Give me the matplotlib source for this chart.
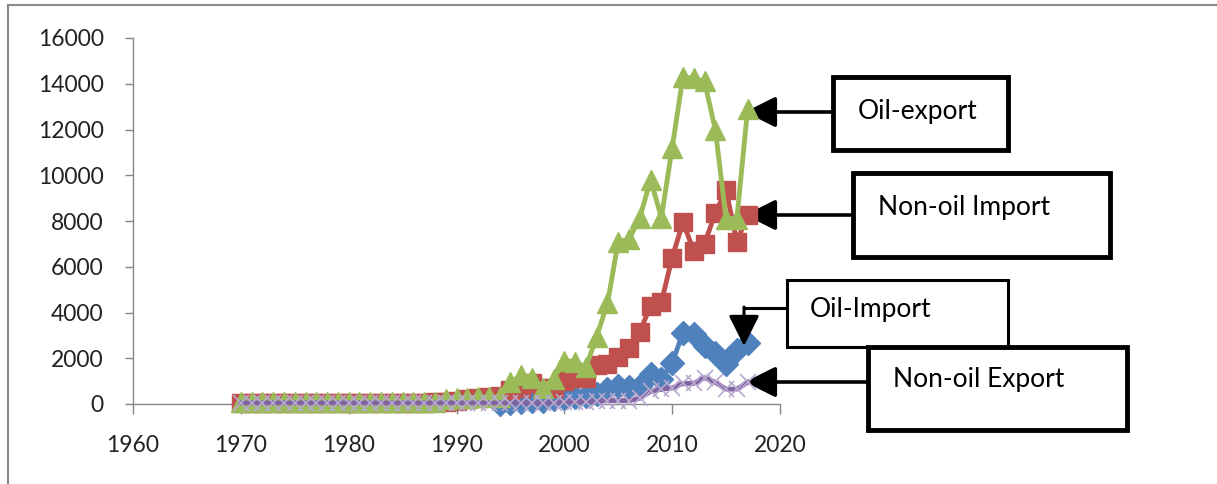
import matplotlib
matplotlib.use('Agg')
import matplotlib.pyplot as plt
import numpy as np
from matplotlib.patches import Rectangle
from matplotlib.lines import Line2D

plt.rcParams['font.family'] = ['Lato', 'DejaVu Sans']

W, H = 1217, 484
nan = np.nan

# data (1970 .. 2017)
years = list(range(1970, 2018))

oil_import = [nan, nan, nan, nan, nan, nan, nan, nan, nan, nan,
              nan, nan, nan, nan, nan, nan, nan, nan, nan, nan,
              nan, nan, nan, nan, 0, 50, 100, 150, 150, 200,
              250, 300, 350, 450, 650, 800, 750, 800, 1300, 1100,
              1800, 3100, 3050, 2550, 2250, 1750, 2350, 2650]

non_oil_import = [50, 50, 50, 50, 50, 50, 50, 50, 50, 50,
                  50, 50, 50, 50, 50, 50, 50, 50, 80, 100,
                  150, 200, 250, 300, 350, 600, 700, 900, 700, 700,
                  1000, 1150, 1150, 1700, 1750, 2050, 2450, 3150, 4300, 4450,
                  6400, 7950, 6700, 7000, 8350, 9350, 7100, 8250]

oil_export = [100, 100, 100, 100, 100, 100, 100, 100, 100, 100,
              100, 100, 100, 100, 100, 100, 100, 100, 100, 200,
              250, 250, 300, 300, 300, 950, 1250, 1150, 700, 1100,
              1900, 1850, 1600, 2950, 4400, 7100, 7200, 8150, 9800, 8150,
              11200, 14300, 14250, 14100, 12000, 8100, 8100, 12900]

non_oil_export = [50, 50, 50, 50, 50, 50, 50, 50, 50, 50,
                  50, 50, 50, 50, 50, 50, 50, 50, 50, 50,
                  50, 50, 50, 50, 50, 50, 50, 50, 50, 50,
                  80, 100, 100, 120, 150, 150, 150, 250, 550, 650,
                  700, 900, 900, 1150, 950, 650, 650, 950]

y_ticks = [0, 2000, 4000, 6000, 8000, 10000, 12000, 14000, 16000]
x_ticks = [1960, 1970, 1980, 1990, 2000, 2010, 2020]


def fx(x):
    return x / W


def fy(y):
    return 1 - y / H


fig = plt.figure(figsize=(W / 100, H / 100), dpi=100)
ax = fig.add_axes([fx(133), fy(404), fx(780) - fx(133), fy(38) - fy(404)])

ax.plot(years, oil_import, color='#4F81BD', lw=3.5, marker='D', ms=12,
        mfc='#4F81BD', mec='#4F81BD', clip_on=False, zorder=3)
ax.plot(years, non_oil_import, color='#C0504D', lw=3.5, marker='s', ms=13,
        mfc='#C0504D', mec='#C0504D', clip_on=False, zorder=4)
ax.plot(years, oil_export, color='#9BBB59', lw=3.5, marker='^', ms=14,
        mfc='#9BBB59', mec='#9BBB59', clip_on=False, zorder=5)
ax.plot(years, non_oil_export, color='#8064A2', lw=3.5, marker='x', ms=12,
        mec='#B9A8D0', mew=1.2, clip_on=False, zorder=6)

ax.set_xlim(1960, 2020)
ax.set_ylim(0, 16000)
ax.set_xticks(x_ticks)
ax.set_yticks(y_ticks)
ax.tick_params(axis='y', direction='out', length=6, width=1, color='#868686',
               labelsize=16.5, pad=15, labelcolor='#222222')
ax.tick_params(axis='x', direction='out', length=7, width=1, color='#868686',
               labelsize=16.5, pad=15, labelcolor='#222222')
for s in ['top', 'right']:
    ax.spines[s].set_visible(False)
for s in ['left', 'bottom']:
    ax.spines[s].set_color('#868686')
    ax.spines[s].set_linewidth(1)

# frame of the picture (top and left only)
fig.add_artist(Line2D([fx(8), fx(8)], [fy(5), 0], transform=fig.transFigure,
                      color='#8a8a8a', lw=1.5))
fig.add_artist(Line2D([fx(8), 1], [fy(5), fy(5)], transform=fig.transFigure,
                      color='#8a8a8a', lw=1.5))

# callout boxes: (label, left, top, right, bottom, border, text x, text y)
boxes = [
    ('Oil-export', 833, 77, 1008, 150, 3.5, 858, 112),
    ('Non-oil Import', 853, 173, 1110, 257, 3.5, 878, 208),
    ('Oil-Import', 787, 280, 1008, 347, 2.2, 810, 310),
    ('Non-oil Export', 868, 347, 1127, 430, 3.5, 893, 379),
]
for label, x0, y0, x1, y1, lw, tx, ty in boxes:
    fig.add_artist(Rectangle((fx(x0), fy(y1)), fx(x1) - fx(x0), fy(y0) - fy(y1),
                             transform=fig.transFigure, facecolor='white',
                             edgecolor='black', lw=lw, zorder=10))
    fig.text(fx(tx), fy(ty), label, fontsize=19, va='center', ha='left',
             color='black', zorder=11)

arrow = dict(arrowstyle='-|>,head_length=0.9,head_width=0.45', color='black',
             lw=2.6, mutation_scale=21, shrinkA=0, shrinkB=0)

ax.annotate('', xy=(fx(745), fy(112)), xycoords='figure fraction',
            xytext=(fx(833), fy(112)), textcoords='figure fraction',
            arrowprops=arrow, annotation_clip=False)
ax.annotate('', xy=(fx(745), fy(215)), xycoords='figure fraction',
            xytext=(fx(853), fy(215)), textcoords='figure fraction',
            arrowprops=arrow, annotation_clip=False)
ax.annotate('', xy=(fx(745), fy(382)), xycoords='figure fraction',
            xytext=(fx(868), fy(382)), textcoords='figure fraction',
            arrowprops=arrow, annotation_clip=False)
# elbow arrow for Oil-Import
fig.add_artist(Line2D([fx(787), fx(744)], [fy(308), fy(308)],
                      transform=fig.transFigure, color='black', lw=2.2))
ax.annotate('', xy=(fx(744), fy(346)), xycoords='figure fraction',
            xytext=(fx(744), fy(307)), textcoords='figure fraction',
            arrowprops=dict(arrow, lw=2.2), annotation_clip=False)

fig.savefig('out.png', dpi=100)
